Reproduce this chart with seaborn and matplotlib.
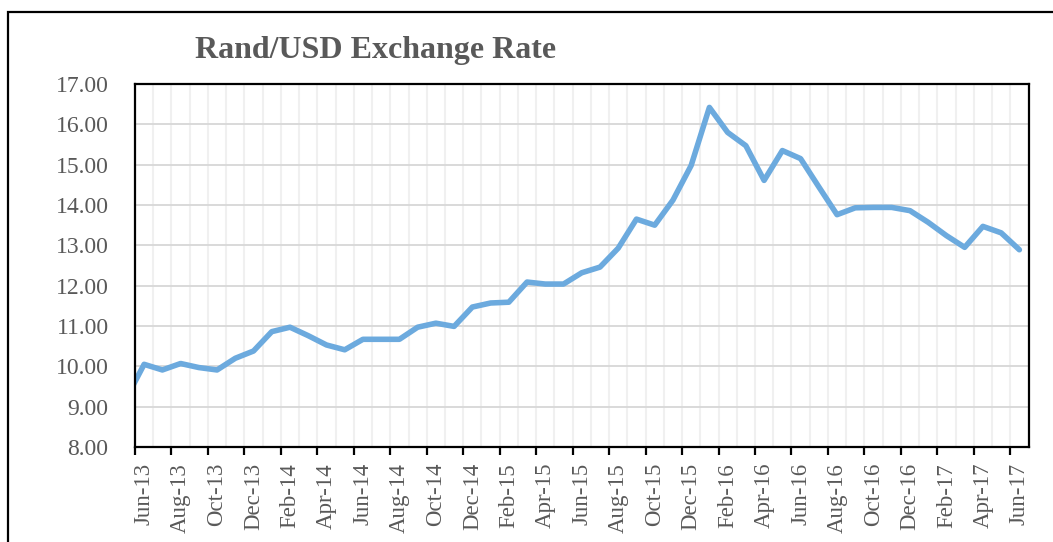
import numpy as np
import pandas as pd
import matplotlib
matplotlib.use('Agg')
import matplotlib.pyplot as plt
from matplotlib.patches import Rectangle
from matplotlib.ticker import FixedLocator, FormatStrFormatter
import seaborn as sns

# Данные: месяц и курс ZAR за 1 USD (первая точка May-13 уходит за левый край оси)
months = ['May-13', 'Jun-13', 'Jul-13', 'Aug-13', 'Sep-13', 'Oct-13', 'Nov-13', 'Dec-13',
          'Jan-14', 'Feb-14', 'Mar-14', 'Apr-14', 'May-14', 'Jun-14', 'Jul-14', 'Aug-14',
          'Sep-14', 'Oct-14', 'Nov-14', 'Dec-14', 'Jan-15', 'Feb-15', 'Mar-15', 'Apr-15',
          'May-15', 'Jun-15', 'Jul-15', 'Aug-15', 'Sep-15', 'Oct-15', 'Nov-15', 'Dec-15',
          'Jan-16', 'Feb-16', 'Mar-16', 'Apr-16', 'May-16', 'Jun-16', 'Jul-16', 'Aug-16',
          'Sep-16', 'Oct-16', 'Nov-16', 'Dec-16', 'Jan-17', 'Feb-17', 'Mar-17', 'Apr-17',
          'May-17', 'Jun-17']
rate = [9.19, 10.05, 9.91, 10.07, 9.97, 9.91, 10.20, 10.38,
        10.86, 10.97, 10.76, 10.53, 10.41, 10.67, 10.67, 10.67,
        10.97, 11.07, 10.99, 11.47, 11.57, 11.59, 12.09, 12.04,
        12.04, 12.32, 12.46, 12.93, 13.65, 13.50, 14.12, 14.98,
        16.42, 15.80, 15.47, 14.61, 15.35, 15.15, 14.45, 13.76,
        13.93, 13.94, 13.94, 13.86, 13.57, 13.24, 12.95, 13.47,
        13.31, 12.89]

data = pd.DataFrame({'month': months, 'rate': rate})
data['pos'] = np.arange(len(data)) - 1   # Jun-13 = 0

sns.set_style('white')
plt.rcParams['font.family'] = ['Liberation Serif', 'DejaVu Serif']

grey = '#595959'
fig = plt.figure(figsize=(10.53, 5.42), dpi=100)
ax = fig.add_axes([135 / 1053, 1 - 447 / 542, (1028.5 - 135) / 1053, (447 - 84) / 542])

sns.lineplot(data=data, x='pos', y='rate', ax=ax, color='#6CAADE', linewidth=4.0,
             solid_joinstyle='round', solid_capstyle='round')

n = len(data) - 1
ax.set_xlim(-0.5, n - 0.5)
ax.set_ylim(8, 17)
ax.set_xlabel('')
ax.set_ylabel('')

# Подписи по центрам категорий, через месяц
ax.xaxis.set_major_locator(FixedLocator(data['pos'].values[1::2]))
ax.set_xticklabels(data['month'].values[1::2], rotation=90)
ax.xaxis.set_minor_locator(FixedLocator(np.arange(-0.5, n, 1.0)))
ax.tick_params(axis='x', which='major', length=0, pad=11.5, labelsize=16.5, labelcolor=grey)
ax.tick_params(axis='x', which='minor', length=0)
ax.grid(which='minor', axis='x', color='#F0F0F0', linewidth=1.5)
ax.grid(which='major', axis='x', visible=False)

ax.set_yticks(np.arange(8, 18, 1))
ax.yaxis.set_major_formatter(FormatStrFormatter('%.2f'))
ax.tick_params(axis='y', length=0, pad=19, labelsize=17, labelcolor=grey)
ax.grid(which='major', axis='y', color='#D9D9D9', linewidth=1.4)

for s in ax.spines.values():
    s.set_color('black')
    s.set_linewidth(1.6)

# Засечки на границах категорий
sec = ax.secondary_xaxis('bottom')
sec.set_xticks(np.arange(-0.5, n, 2.0))
sec.set_xticklabels([])
sec.tick_params(axis='x', length=6, width=1.6, color='black', direction='out')
sec.spines['bottom'].set_visible(False)

fig.text(195 / 1053, 1 - 58 / 542, 'Rand/USD Exchange Rate', ha='left', va='baseline',
         fontsize=23, fontweight='bold', color=grey)

fig.patches.append(Rectangle((8 / 1053, -0.1), 1.2, 1.1 - 12 / 542,
                             transform=fig.transFigure, fill=False,
                             edgecolor='black', linewidth=1.6))

fig.savefig('out.png', dpi=100)
